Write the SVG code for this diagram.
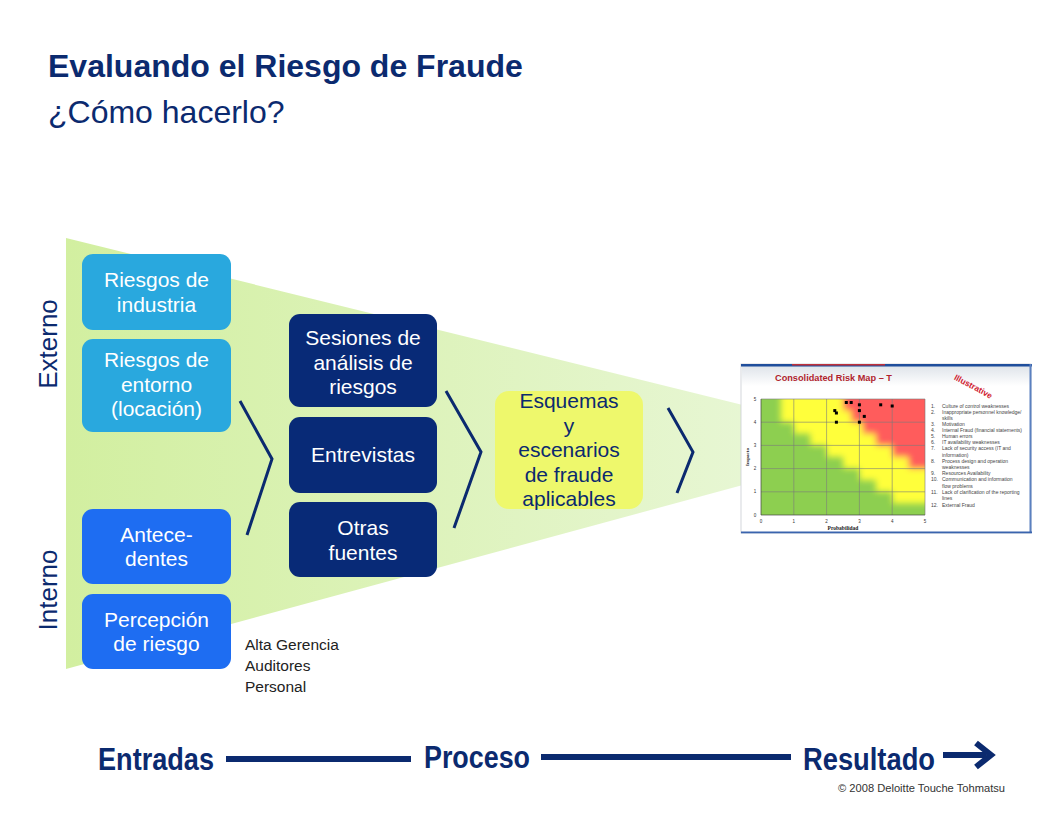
<svg xmlns="http://www.w3.org/2000/svg" width="1056" height="816" viewBox="0 0 1056 816">
<style>
.nt{font-family:"Liberation Sans",Arial,sans-serif;font-size:21px;fill:#fff;text-anchor:middle}
.yt{font-family:"Liberation Sans",Arial,sans-serif;font-size:21px;fill:#0b2a6f;text-anchor:middle}
.side{font-family:"Liberation Sans",Arial,sans-serif;font-size:26px;fill:#0b2a6f;text-anchor:middle}
.bt{font-family:"Liberation Sans",Arial,sans-serif;font-size:32px;font-weight:bold;fill:#0b2a6f}
.chev{fill:none;stroke:#0b2a6f;stroke-width:3;stroke-linejoin:miter}
.lg{font-family:"Liberation Sans",Arial,sans-serif;font-size:5px;fill:#444}
.tk{font-family:"Liberation Sans",Arial,sans-serif;font-size:4.5px;fill:#333;text-anchor:middle}
.gl{stroke:#7a7a7a;stroke-width:0.6}
</style>
<defs>
<linearGradient id="fg" x1="66" y1="0" x2="900" y2="0" gradientUnits="userSpaceOnUse">
<stop offset="0" stop-color="#d2efa0"/>
<stop offset="1" stop-color="#ecf8df"/>
</linearGradient>
<linearGradient id="hdr" x1="0" y1="0" x2="0" y2="1">
<stop offset="0" stop-color="#dfe4ea"/>
<stop offset="1" stop-color="#ffffff"/>
</linearGradient>
<clipPath id="plot"><rect x="761" y="399" width="164" height="116"/></clipPath>
<filter id="blur" x="-10%" y="-10%" width="120%" height="120%"><feGaussianBlur stdDeviation="3"/></filter>
</defs>
<rect width="1056" height="816" fill="#fff"/>

<g id="title">
<text x="48" y="77" font-family="Liberation Sans,Arial,sans-serif" font-size="32" font-weight="bold" fill="#0b2a6f">Evaluando el Riesgo de Fraude</text>
<text x="48" y="123" font-family="Liberation Sans,Arial,sans-serif" font-size="32" fill="#0b2a6f">¿Cómo hacerlo?</text>
</g>

<polygon id="funnel" points="66,238 897,443 66,669" fill="url(#fg)"/>

<g id="side-labels">
<text class="side" transform="translate(57,344) rotate(-90)">Externo</text>
<text class="side" transform="translate(57,590) rotate(-90)">Interno</text>
</g>

<g id="node-industria">
<rect x="82" y="254" width="149" height="76" rx="11" fill="#29a8de"/>
<text class="nt" x="156.5" y="287">Riesgos de</text>
<text class="nt" x="156.5" y="311.5">industria</text>
</g>
<g id="node-entorno">
<rect x="82" y="339" width="149" height="93" rx="11" fill="#29a8de"/>
<text class="nt" x="156.5" y="367">Riesgos de</text>
<text class="nt" x="156.5" y="391.5">entorno</text>
<text class="nt" x="156.5" y="416">(locación)</text>
</g>
<g id="node-antecedentes">
<rect x="82" y="509" width="149" height="75" rx="11" fill="#1e6df2"/>
<text class="nt" x="156.5" y="541.5">Antece-</text>
<text class="nt" x="156.5" y="566">dentes</text>
</g>
<g id="node-percepcion">
<rect x="82" y="594" width="149" height="75" rx="11" fill="#1e6df2"/>
<text class="nt" x="156.5" y="626.5">Percepción</text>
<text class="nt" x="156.5" y="651">de riesgo</text>
</g>

<g id="node-sesiones">
<rect x="289" y="314" width="148" height="93" rx="11" fill="#082a77"/>
<text class="nt" x="363" y="345">Sesiones de</text>
<text class="nt" x="363" y="369.5">análisis de</text>
<text class="nt" x="363" y="394">riesgos</text>
</g>
<g id="node-entrevistas">
<rect x="289" y="417" width="148" height="76" rx="11" fill="#082a77"/>
<text class="nt" x="363" y="462">Entrevistas</text>
</g>
<g id="node-otras">
<rect x="289" y="502" width="148" height="75" rx="11" fill="#082a77"/>
<text class="nt" x="363" y="535">Otras</text>
<text class="nt" x="363" y="559.5">fuentes</text>
</g>

<g id="node-esquemas">
<rect x="495" y="391" width="148" height="118" rx="14" fill="#eef86c"/>
<text class="yt" x="569" y="408">Esquemas</text>
<text class="yt" x="569" y="432.5">y</text>
<text class="yt" x="569" y="457">escenarios</text>
<text class="yt" x="569" y="481.5">de fraude</text>
<text class="yt" x="569" y="506">aplicables</text>
</g>

<g id="sources" font-family="Liberation Sans,Arial,sans-serif" font-size="15.5" fill="#222">
<text x="245" y="650">Alta Gerencia</text>
<text x="245" y="671">Auditores</text>
<text x="245" y="692">Personal</text>
</g>

<g id="connectors">
<polyline class="chev" points="240,401 272,459 247,535"/>
<polyline class="chev" points="446,391 481,452 454,528"/>
<polyline class="chev" points="668,408 693,452 677,493"/>
</g>

<g id="risk-map">
<rect x="741" y="364" width="290" height="169" fill="#fff" stroke="#c8ccd2" stroke-width="0.8"/>
<rect x="742" y="366" width="288" height="20" fill="url(#hdr)"/>
<rect x="741" y="364" width="291" height="2.5" fill="#1f4e9c"/>
<rect x="792" y="364" width="93" height="1.5" fill="#c0303a"/>
<rect x="1029.5" y="364" width="2" height="169" fill="#5a80c0"/>
<rect x="741" y="531.5" width="291" height="1.8" fill="#3a64ae"/>
<text x="775" y="381" font-family="Liberation Sans,Arial,sans-serif" font-size="9.2" font-weight="bold" fill="#b01f2e">Consolidated Risk Map – T</text>
<text transform="translate(972,389) rotate(28)" text-anchor="middle" font-family="Liberation Sans,Arial,sans-serif" font-size="8.4" font-weight="bold" fill="#d0202f">Illustrative</text>
<g clip-path="url(#plot)">
<rect x="761" y="399" width="164" height="116" fill="#8dcf50"/>
<g filter="url(#blur)">
<polygon fill="#ffff3a" points="780.7,390 935,390 935,503.4 892.2,503.4 892.2,491.8 875.8,491.8 875.8,480.2 859.4,480.2 859.4,468.6 843,468.6 843,457 826.6,457 826.6,445.4 810.2,445.4 810.2,433.8 793.8,433.8 793.8,422.2 780.7,422.2"/>
<polygon fill="#ff5b5b" points="843,390 935,390 935,468.6 908.6,468.6 908.6,457 892.2,457 892.2,445.4 875.8,445.4 875.8,433.8 862.7,433.8 862.7,422.2 851.2,422.2 851.2,410.6 843,410.6"/>
</g>
</g>
<g>
<line class="gl" x1="793.8" y1="399" x2="793.8" y2="515"/>
<line class="gl" x1="826.6" y1="399" x2="826.6" y2="515"/>
<line class="gl" x1="859.4" y1="399" x2="859.4" y2="515"/>
<line class="gl" x1="892.2" y1="399" x2="892.2" y2="515"/>
<line class="gl" x1="925" y1="399" x2="925" y2="515"/>
<line class="gl" x1="761" y1="399" x2="925" y2="399"/>
<line class="gl" x1="761" y1="422.2" x2="925" y2="422.2"/>
<line class="gl" x1="761" y1="445.4" x2="925" y2="445.4"/>
<line class="gl" x1="761" y1="468.6" x2="925" y2="468.6"/>
<line class="gl" x1="761" y1="491.8" x2="925" y2="491.8"/>
<line x1="761" y1="399" x2="761" y2="515" stroke="#444" stroke-width="0.7"/>
<line x1="761" y1="515" x2="925" y2="515" stroke="#444" stroke-width="0.7"/>
</g>
<g fill="#000">
<rect x="844.8" y="401" width="3" height="3"/>
<rect x="849.7" y="401" width="3" height="3"/>
<rect x="857.9" y="403.3" width="3" height="3"/>
<rect x="879.2" y="403.3" width="3" height="3"/>
<rect x="890.7" y="404.5" width="3" height="3"/>
<rect x="833.3" y="409.1" width="3" height="3"/>
<rect x="834.9" y="411.5" width="3" height="3"/>
<rect x="857.9" y="409.1" width="3" height="3"/>
<rect x="862.8" y="414.9" width="3" height="3"/>
<rect x="834.9" y="420.7" width="3" height="3"/>
<rect x="857.9" y="420.7" width="3" height="3"/>
</g>
<g class="tk">
<text x="755" y="400.5">5</text><text x="755" y="423.7">4</text><text x="755" y="446.9">3</text>
<text x="755" y="470.1">2</text><text x="755" y="493.3">1</text><text x="755" y="516.5">0</text>
<text x="761" y="523">0</text><text x="793.8" y="523">1</text><text x="826.6" y="523">2</text>
<text x="859.4" y="523">3</text><text x="892.2" y="523">4</text><text x="925" y="523">5</text>
</g>
<text transform="translate(749,457) rotate(-90)" text-anchor="middle" font-family="Liberation Serif,serif" font-size="5" font-weight="bold" fill="#222">Impacto</text>
<text x="843" y="530" text-anchor="middle" font-family="Liberation Serif,serif" font-size="5.5" font-weight="bold" fill="#222">Probabilidad</text>
<g class="lg">
<text x="931" y="407.5">1.</text><text x="942" y="407.5">Culture of control weaknesses</text>
<text x="931" y="413.8">2.</text><text x="942" y="413.8">Inappropriate personnel knowledge/</text>
<text x="942" y="419.8">skills</text>
<text x="931" y="425.8">3.</text><text x="942" y="425.8">Motivation</text>
<text x="931" y="432.2">4.</text><text x="942" y="432.2">Internal Fraud (financial statements)</text>
<text x="931" y="438.2">5.</text><text x="942" y="438.2">Human errors</text>
<text x="931" y="444.2">6.</text><text x="942" y="444.2">IT availability  weaknesses</text>
<text x="931" y="450.2">7.</text><text x="942" y="450.2">Lack of security access     (IT and</text>
<text x="942" y="456.5">information)</text>
<text x="931" y="462.5">8.</text><text x="942" y="462.5">Process design and operation</text>
<text x="942" y="468.8">weaknesses</text>
<text x="931" y="475.2">9.</text><text x="942" y="475.2">Resources Availability</text>
<text x="931" y="480.8">10.</text><text x="942" y="480.8">Communication and information</text>
<text x="942" y="487.5">flow  problems</text>
<text x="931" y="493.8">11.</text><text x="942" y="493.8">Lack of clarification of the reporting</text>
<text x="942" y="500.2">lines</text>
<text x="931" y="506.5">12.</text><text x="942" y="506.5">External Fraud</text>
</g>
</g>

<g id="flow">
<text class="bt" x="98" y="770" textLength="116" lengthAdjust="spacingAndGlyphs">Entradas</text>
<line x1="226" y1="759" x2="411" y2="759" stroke="#0b2a6f" stroke-width="6"/>
<text class="bt" x="424" y="768" textLength="106" lengthAdjust="spacingAndGlyphs">Proceso</text>
<line x1="541" y1="757" x2="791" y2="757" stroke="#0b2a6f" stroke-width="6"/>
<text class="bt" x="803" y="770" textLength="132" lengthAdjust="spacingAndGlyphs">Resultado</text>
<line x1="943" y1="755" x2="986" y2="755" stroke="#0b2a6f" stroke-width="6"/>
<polyline points="976,743 991,755 976,767" fill="none" stroke="#0b2a6f" stroke-width="6" stroke-linejoin="miter"/>
</g>

<text id="copyright" x="838" y="792" font-family="Liberation Sans,Arial,sans-serif" font-size="10" fill="#333" textLength="167" lengthAdjust="spacingAndGlyphs">© 2008 Deloitte Touche Tohmatsu</text>
</svg>
